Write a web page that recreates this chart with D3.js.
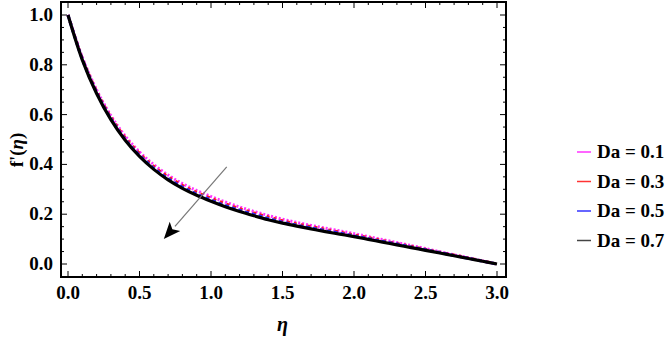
<!DOCTYPE html>
<html><head><meta charset="utf-8">
<script src="https://cdn.jsdelivr.net/npm/d3@7"></script>
<style>body{margin:0;background:#fff}svg{display:block}</style>
</head><body>
<svg id="c" width="669" height="338"></svg>
<script>
const eta = [0,0.1,0.2,0.3,0.4,0.5,0.6,0.7,0.8,0.9,1.0,1.1,1.2,1.3,1.4,1.5,1.6,1.7,1.8,1.9,2.0,2.1,2.2,2.3,2.4,2.5,2.6,2.7,2.8,2.9,3.0];
const da07 = [1.0,0.820,0.685,0.580,0.497,0.432,0.380,0.338,0.304,0.276,0.252,0.230,0.211,0.194,0.178,0.164,0.152,0.141,0.130,0.120,0.110,0.099,0.088,0.077,0.066,0.055,0.044,0.033,0.022,0.011,0.0];
const da05 = [1.0,0.823,0.689,0.584,0.501,0.437,0.385,0.343,0.309,0.281,0.257,0.235,0.216,0.199,0.183,0.168,0.156,0.145,0.134,0.124,0.113,0.102,0.091,0.080,0.068,0.057,0.046,0.034,0.023,0.011,0.0];
const da03 = [1.0,0.826,0.694,0.590,0.508,0.444,0.392,0.350,0.316,0.288,0.264,0.242,0.222,0.205,0.189,0.174,0.161,0.150,0.139,0.128,0.117,0.106,0.094,0.082,0.071,0.059,0.047,0.036,0.024,0.012,0.0];
const da01 = [1.0,0.830,0.699,0.596,0.514,0.450,0.399,0.357,0.323,0.295,0.271,0.249,0.229,0.211,0.195,0.180,0.167,0.155,0.144,0.133,0.122,0.110,0.098,0.086,0.074,0.062,0.049,0.037,0.025,0.012,0.0];
const seriesNames = ["Da = 0.1","Da = 0.3","Da = 0.5","Da = 0.7"];
const xTicks = [0,0.5,1,1.5,2,2.5,3];
const yTicks = [0,0.2,0.4,0.6,0.8,1.0];
const arrowFrom = [1.11,0.39];
const arrowTo = [0.67,0.10];

const font = "Liberation Serif";
const svg = d3.select("#c");
const L=61,R=506,T=2,B=277;
const x = d3.scaleLinear().domain([0,3]).range([68,497]);
const y = d3.scaleLinear().domain([0,1]).range([264,15]);

svg.append("rect").attr("x",L).attr("y",T).attr("width",R-L).attr("height",B-T)
  .attr("fill","none").attr("stroke","#000").attr("stroke-width",2);

const xMinor = d3.range(0,3.0001,0.1);
const yMinor = d3.range(0,1.0001,0.05);
const tk = svg.append("g").attr("stroke","#000").attr("stroke-width",1);
xMinor.forEach(v=>{
  const major = xTicks.some(t=>Math.abs(t-v)<1e-6);
  const len = major?6:3;
  tk.append("line").attr("x1",x(v)).attr("x2",x(v)).attr("y1",B).attr("y2",B-len);
  tk.append("line").attr("x1",x(v)).attr("x2",x(v)).attr("y1",T).attr("y2",T+len);
});
yMinor.forEach(v=>{
  const major = yTicks.some(t=>Math.abs(t-v)<1e-6);
  const len = major?6:3;
  tk.append("line").attr("y1",y(v)).attr("y2",y(v)).attr("x1",L).attr("x2",L+len);
  tk.append("line").attr("y1",y(v)).attr("y2",y(v)).attr("x1",R).attr("x2",R-len);
});

svg.append("g").selectAll("text").data(xTicks).join("text")
  .attr("x",d=>x(d)).attr("y",299).attr("text-anchor","middle")
  .attr("font-family",font).attr("font-weight","bold")
  .attr("font-size",19).text(d=>d3.format(".1f")(d));
svg.append("g").selectAll("text").data(yTicks).join("text")
  .attr("x",53).attr("y",d=>y(d)+6).attr("text-anchor","end")
  .attr("font-family",font).attr("font-weight","bold")
  .attr("font-size",19).text(d=>d3.format(".1f")(d));

svg.append("text").attr("x",x(1.5)).attr("y",331).attr("text-anchor","middle")
  .attr("font-family",font).attr("font-weight","bold")
  .attr("font-style","italic").attr("font-size",20).text("η");
const yt = svg.append("text").attr("transform","translate(23,150) rotate(-90)").attr("text-anchor","middle")
  .attr("font-family",font).attr("font-weight","bold").attr("font-size",19);
yt.append("tspan").text("f'(");
yt.append("tspan").attr("font-style","italic").text("η");
yt.append("tspan").text(")");

const data = [da01,da03,da05,da07];
const colors = ["#ff33ff","#ff1a1a","#2a2aff","#000000"];
const dashes = ["2,2","3,4","4,3",null];
const widths = [3,3,3,3.2];
const line = d3.line().x((d,i)=>x(eta[i])).y(d=>y(d)).curve(d3.curveCatmullRom);
svg.append("clipPath").attr("id","cp").append("rect").attr("x",L).attr("y",T).attr("width",R-L).attr("height",B-T);
data.forEach((s,k)=>{
  svg.append("path").attr("d",line(s)).attr("fill","none").attr("stroke",colors[k])
    .attr("stroke-width",widths[k]).attr("stroke-dasharray",dashes[k]).attr("clip-path","url(#cp)");
});

const ax1=x(arrowFrom[0]),ay1=y(arrowFrom[1]),ax2=x(arrowTo[0]),ay2=y(arrowTo[1]);
const ang=Math.atan2(ay2-ay1,ax2-ax1);
const hl=17,hw=7;
const bx=ax2-hl*Math.cos(ang), by=ay2-hl*Math.sin(ang);
svg.append("line").attr("x1",ax1).attr("y1",ay1).attr("x2",bx).attr("y2",by)
  .attr("stroke","#777").attr("stroke-width",1.2);
svg.append("path").attr("d",`M${ax2},${ay2}L${bx+hw*Math.sin(ang)},${by-hw*Math.cos(ang)}L${bx+4*Math.cos(ang)},${by+4*Math.sin(ang)}L${bx-hw*Math.sin(ang)},${by+hw*Math.cos(ang)}Z`)
  .attr("fill","#000");

const legColors = ["#ff33ff","#ff3333","#3333ff","#444444"];
const lg = svg.append("g");
seriesNames.forEach((n,i)=>{
  const yy = 152 + i*29.5;
  lg.append("line").attr("x1",577).attr("x2",591).attr("y1",yy).attr("y2",yy)
    .attr("stroke",legColors[i]).attr("stroke-width",1.5);
  lg.append("text").attr("x",597).attr("y",yy+6).attr("font-family",font).attr("font-weight","bold")
    .attr("font-size",19).text(n);
});
</script>
</body></html>
